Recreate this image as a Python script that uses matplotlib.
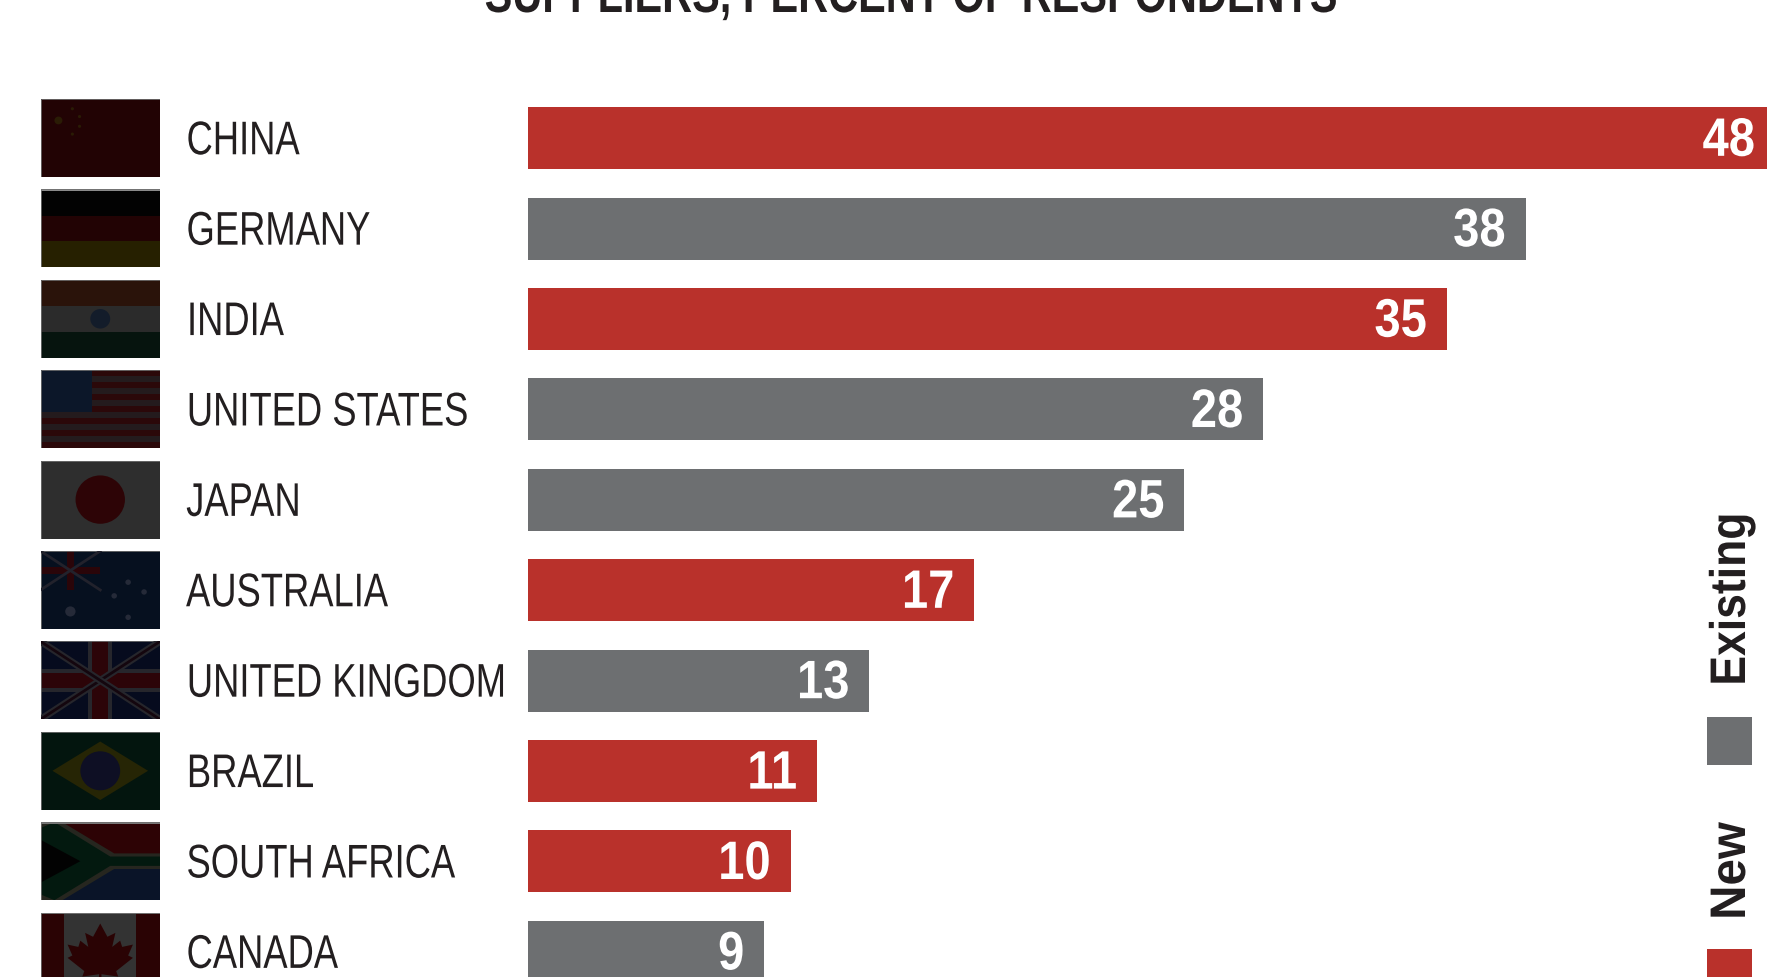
import matplotlib
matplotlib.use('Agg')
import matplotlib.pyplot as plt
from matplotlib.patches import Rectangle, Circle, Polygon
from matplotlib.patheffects import AbstractPathEffect
from matplotlib.transforms import Affine2D

countries = ['CHINA', 'GERMANY', 'INDIA', 'UNITED STATES', 'JAPAN', 'AUSTRALIA',
             'UNITED KINGDOM', 'BRAZIL', 'SOUTH AFRICA', 'CANADA']
values = [48, 38, 35, 28, 25, 17, 13, 11, 10, 9]
status = ['New', 'Existing', 'New', 'Existing', 'Existing', 'New',
          'Existing', 'New', 'New', 'Existing']
title = 'SUPPLIERS, PERCENT OF RESPONDENTS'

RED = '#b9312b'
GRAY = '#6d6f71'
colors = {'New': RED, 'Existing': GRAY}
W, H = 1767, 978
ROW = 90.4
PX_PER_UNIT = 26.25

plt.rcParams['font.family'] = ['Liberation Sans', 'DejaVu Sans']


class Condense(AbstractPathEffect):
    # squeezes a text along its reading direction, no condensed font is available
    def __init__(self, sx=1.0, sy=1.0, pivot='left'):
        super().__init__()
        self.sx, self.sy, self.pivot = sx, sy, pivot

    def draw_path(self, renderer, gc, tpath, affine, rgbFace=None):
        ext = tpath.transformed(affine).get_extents()
        px = {'left': ext.x0, 'right': ext.x1, 'center': (ext.x0 + ext.x1) / 2}[self.pivot]
        squeeze = Affine2D().translate(-px, -ext.y0).scale(self.sx, self.sy).translate(px, ext.y0)
        renderer.draw_path(gc, tpath, affine + squeeze, rgbFace)


def box(a, x, y, w, h, c):
    a.add_patch(Rectangle((x, y), w, h, fc=c, ec='none'))


def poly(a, pts, c):
    a.add_patch(Polygon(pts, closed=True, fc=c, ec='none'))


def dot(a, x, y, r, c):
    a.add_patch(Circle((x, y), r, fc=c, ec='none'))


# flags are drawn on a 3x2 grid, all of them dimmed
def china(a):
    box(a, 0, 0, 3, 2, '#220304')
    dot(a, .45, 1.45, .1, '#2a1c05')
    for x, y in [(.8, 1.75), (.98, 1.55), (.98, 1.3), (.8, 1.1)]:
        dot(a, x, y, .04, '#2a1c05')


def germany(a):
    box(a, 0, 0, 3, .67, '#262000')
    box(a, 0, .67, 3, .67, '#220304')
    box(a, 0, 1.33, 3, .67, '#020202')
    box(a, 0, 1.95, 3, .05, '#8a8a8a')


def india(a):
    box(a, 0, 0, 3, .67, '#06140e')
    box(a, 0, .67, 3, .67, '#2b2b2b')
    box(a, 0, 1.33, 3, .67, '#2a130a')
    dot(a, 1.5, 1, .25, '#131c2a')


def usa(a):
    box(a, 0, 0, 3, 2, '#241b1d')
    for i in range(0, 13, 2):
        box(a, 0, i * 2 / 13, 3, 2 / 13, '#2b0809')
    box(a, 0, 2 * 6 / 13, 1.3, 2 * 7 / 13, '#0c1729')


def japan(a):
    box(a, 0, 0, 3, 2, '#2e2e2e')
    dot(a, 1.5, 1, .62, '#2d0406')


def australia(a):
    box(a, 0, 0, 3, 2, '#06101f')
    for pts in [[(0, 1), (1.5, 2)], [(0, 2), (1.5, 1)]]:
        a.plot(*zip(*pts), color='#22222c', lw=2)
    box(a, .67, 1, .16, 1, '#2a0509')
    box(a, 0, 1.42, 1.5, .16, '#2a0509')
    for x, y, r in [(.75, .45, .13), (2.2, .3, .07), (2.2, 1.2, .07),
                    (1.85, .85, .07), (2.6, .95, .07)]:
        dot(a, x, y, r, '#252a38')


def uk(a):
    box(a, 0, 0, 3, 2, '#060b1e')
    for pts in [[(0, 0), (3, 2)], [(0, 2), (3, 0)]]:
        a.plot(*zip(*pts), color='#26262c', lw=5)
        a.plot(*zip(*pts), color='#14060e', lw=2)
    box(a, 1.2, 0, .6, 2, '#26262c')
    box(a, 0, .7, 3, .6, '#26262c')
    box(a, 1.3, 0, .4, 2, '#2c0408')
    box(a, 0, .8, 3, .4, '#2c0408')


def brazil(a):
    box(a, 0, 0, 3, 2, '#03150e')
    poly(a, [(.3, 1), (1.5, 1.75), (2.7, 1), (1.5, .25)], '#262505')
    dot(a, 1.5, 1, .5, '#0e0f24')


def south_africa(a):
    box(a, 0, 1, 3, 1, '#2d0305')
    box(a, 0, 0, 3, 1, '#0a1428')
    poly(a, [(0, 2), (.55, 2), (1.85, 1.2), (3, 1.2), (3, .8), (1.85, .8), (.55, 0), (0, 0)], '#26261f')
    poly(a, [(0, 1.85), (.35, 2), (1.75, 1.12), (3, 1.12), (3, .88), (1.75, .88), (.35, 0), (0, .15)], '#03190f')
    poly(a, [(0, 1.55), (1, 1), (0, .45)], '#020202')
    box(a, 0, 1.96, 3, .04, '#777777')


def canada(a):
    box(a, 0, 0, 3, 2, '#333333')
    box(a, 0, 0, .6, 2, '#2a0304')
    box(a, 2.4, 0, .6, 2, '#2a0304')
    leaf = [(1.5, 1.72), (1.32, 1.38), (1.12, 1.48), (1.2, 1.12), (1.0, 1.28), (.95, 1.12),
            (.68, 1.18), (.8, .9), (.68, .84), (1.1, .5), (1.05, .36), (1.47, .42), (1.47, .12),
            (1.53, .12), (1.53, .42), (1.95, .36), (1.9, .5), (2.32, .84), (2.2, .9), (2.32, 1.18),
            (2.05, 1.12), (2.0, 1.28), (1.8, 1.12), (1.88, 1.48), (1.68, 1.38)]
    poly(a, leaf, '#2a0304')
    box(a, 0, 1.96, 3, .04, '#777777')


flags = [china, germany, india, usa, japan, australia, uk, brazil, south_africa, canada]

fig = plt.figure(figsize=(W / 100, H / 100), dpi=100, facecolor='white')

# bars start at x=528 and run past the right edge
ax = fig.add_axes([528 / W, 0, 1 - 528 / W, 1])
ax.barh(range(len(values)), values, height=62 / ROW, color=[colors[s] for s in status])
ax.set_xlim(0, (W - 528) / PX_PER_UNIT)
ax.set_ylim((H - 139.2) / ROW, -139.2 / ROW)
ax.axis('off')

xmax = ax.get_xlim()[1]
trans = ax.get_yaxis_transform()
for i, (name, v) in enumerate(zip(countries, values)):
    ax.text(min(v - 0.75, xmax - 0.45), i + 0.04, str(v), color='white', fontsize=39,
            fontweight='bold', ha='right', va='center',
            path_effects=[Condense(sx=0.87, pivot='right')])
    ax.text((186 - 528) / (W - 528), i + 0.045, name, transform=trans, color='#231f20',
            fontsize=34, ha='left', va='center', clip_on=False,
            path_effects=[Condense(sx=0.77)])
    # flag for this row
    cy = 139 + ROW * i
    fa = fig.add_axes([40.5 / W, 1 - (cy + 39) / H, 119.5 / W, 78 / H])
    fa.set_xlim(0, 3)
    fa.set_ylim(0, 2)
    fa.set_autoscale_on(False)
    fa.axis('off')
    flags[i](fa)
    fa.add_patch(Rectangle((0, 0), 3, 2, fc='none', ec='#6f6f6f', lw=0.6))

fig.text(910 / W, 1 - 13 / H, title, fontsize=38, fontweight='bold', color='#231f20',
         ha='center', va='baseline', path_effects=[Condense(sx=0.786, pivot='center')])

# vertical legend on the right edge
fig.patches.append(Rectangle((1707 / W, 1 - 766 / H), 45 / W, 48 / H, fc=GRAY, ec='none',
                             transform=fig.transFigure, figure=fig))
fig.patches.append(Rectangle((1707 / W, 1 - 998 / H), 45 / W, 48 / H, fc=RED, ec='none',
                             transform=fig.transFigure, figure=fig))
fig.text(1732 / W, 1 - 687 / H, 'Existing', rotation=90, fontsize=36, fontweight='bold',
         color='#231f20', ha='center', va='bottom', path_effects=[Condense(sy=0.89)])
fig.text(1732 / W, 1 - 921 / H, 'New', rotation=90, fontsize=36, fontweight='bold',
         color='#231f20', ha='center', va='bottom', path_effects=[Condense(sy=0.95)])

fig.savefig('out.png', dpi=100, facecolor='white')
